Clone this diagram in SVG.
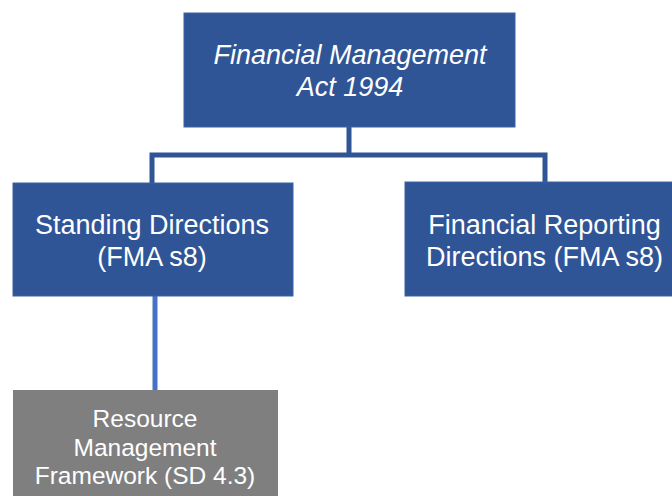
<svg xmlns="http://www.w3.org/2000/svg" width="672" height="496" viewBox="0 0 672 496">
<style>
.box{fill:#2F5597;stroke:#3D63A6;stroke-width:1}
.gray{fill:#7F7F7F}
.t{font-family:"Liberation Sans",Arial,sans-serif;fill:#FFFFFF;text-anchor:middle}
.big{font-size:27px}
.sm{font-size:24.5px}
.conn{fill:none;stroke:#2F5597;stroke-width:5}
.conn2{fill:none;stroke:#4472C4;stroke-width:5}
</style>
<rect width="672" height="496" fill="#FFFFFF"/>
<g id="connectors">
<path class="conn" d="M349 127 V155 M152 183 V155 H545 V182"/>
<path class="conn2" d="M155 296 V392"/>
</g>
<g id="fma">
<rect class="box" x="184" y="13" width="331" height="114"/>
<text class="t big" font-style="italic" x="350" y="64">Financial Management</text>
<text class="t big" font-style="italic" x="350" y="96">Act 1994</text>
</g>
<g id="standing">
<rect class="box" x="13" y="183" width="280" height="113"/>
<text class="t big" x="152" y="234">Standing Directions</text>
<text class="t big" x="152" y="266">(FMA s8)</text>
</g>
<g id="frd">
<rect class="box" x="405" y="182" width="268" height="114"/>
<text class="t big" x="544.5" y="234">Financial Reporting</text>
<text class="t big" x="544.5" y="266">Directions (FMA s8)</text>
</g>
<g id="rmf">
<rect class="gray" x="13" y="390" width="265" height="107"/>
<text class="t sm" x="145" y="427">Resource</text>
<text class="t sm" x="145" y="456">Management</text>
<text class="t sm" x="145" y="484">Framework (SD 4.3)</text>
</g>
</svg>
